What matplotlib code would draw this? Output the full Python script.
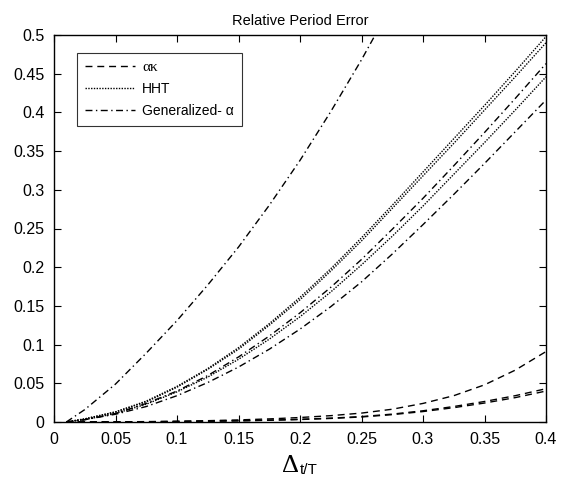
import matplotlib
matplotlib.use("Agg")
import matplotlib.pyplot as plt

# ---- data ----
t = [0.01, 0.025, 0.05, 0.075, 0.1, 0.125, 0.15, 0.175, 0.2, 0.225, 0.25,
     0.275, 0.3, 0.325, 0.35, 0.375, 0.4]

ak_1 = [0, 0, 0.0002, 0.0005, 0.001, 0.0017, 0.0027, 0.004, 0.0058, 0.0082,
        0.0115, 0.0165, 0.024, 0.034, 0.048, 0.067, 0.091]
ak_2 = [0, 0, 0.0001, 0.0003, 0.0006, 0.001, 0.0016, 0.0024, 0.0035, 0.005,
        0.007, 0.0102, 0.0145, 0.020, 0.0265, 0.034, 0.043]
ak_3 = [0, 0, 0.0001, 0.0003, 0.0006, 0.001, 0.0015, 0.0022, 0.0032, 0.0046,
        0.0065, 0.0095, 0.0135, 0.0185, 0.0245, 0.0315, 0.040]

hht_1 = [0, 0.004, 0.013, 0.027, 0.046, 0.069, 0.096, 0.127, 0.161, 0.198,
         0.238, 0.280, 0.323, 0.366, 0.409, 0.453, 0.498]
hht_2 = [0, 0.004, 0.013, 0.026, 0.045, 0.068, 0.094, 0.125, 0.158, 0.195,
         0.234, 0.276, 0.318, 0.360, 0.403, 0.446, 0.490]
hht_3 = [0, 0.003, 0.011, 0.023, 0.039, 0.058, 0.081, 0.107, 0.136, 0.168,
         0.203, 0.240, 0.279, 0.320, 0.361, 0.403, 0.446]

t_ga1 = [0.01, 0.025, 0.05, 0.075, 0.1, 0.125, 0.15, 0.175, 0.2, 0.225, 0.25, 0.275]
ga_1 = [0, 0.016, 0.049, 0.089, 0.131, 0.177, 0.226, 0.280, 0.338, 0.401, 0.468, 0.540]
ga_2 = [0, 0.003, 0.011, 0.024, 0.040, 0.060, 0.084, 0.111, 0.141, 0.174,
        0.210, 0.249, 0.289, 0.331, 0.374, 0.418, 0.463]
ga_3 = [0, 0.003, 0.010, 0.020, 0.034, 0.051, 0.071, 0.094, 0.120, 0.149,
        0.181, 0.217, 0.255, 0.294, 0.334, 0.375, 0.416]

legend_labels = ["ακ", "HHT", "Generalized- α"]
xticks = [0, 0.05, 0.1, 0.15, 0.2, 0.25, 0.3, 0.35, 0.4]
xticklabels = ["0", "0.05", "0.1", "0.15", "0.2", "0.25", "0.3", "0.35", "0.4"]
yticks = [0, 0.05, 0.1, 0.15, 0.2, 0.25, 0.3, 0.35, 0.4, 0.45, 0.5]
yticklabels = ["0", "0.05", "0.1", "0.15", "0.2", "0.25", "0.3", "0.35", "0.4", "0.45", "0.5"]

# ---- plot ----
plt.rcParams['font.family'] = ['Liberation Sans', 'DejaVu Sans']
fig = plt.figure(figsize=(5.65, 4.83), dpi=100)
ax = fig.add_axes([54/565, 1-422/483, (546-54)/565, (422-35)/483])

dash = (0, (5, 3.5))
dot = (0, (1, 1))
dashdot = (0, (5, 2.5, 1, 2.5))
lw = 1.0

l1, = ax.plot(t, ak_1, color='black', lw=lw, linestyle=dash)
ax.plot(t, ak_2, color='black', lw=lw, linestyle=dash)
ax.plot(t, ak_3, color='black', lw=lw, linestyle=dash)

l2, = ax.plot(t, hht_1, color='black', lw=lw, linestyle=dot)
ax.plot(t, hht_2, color='black', lw=lw, linestyle=dot)
ax.plot(t, hht_3, color='black', lw=lw, linestyle=dot)

l3, = ax.plot(t_ga1, ga_1, color='black', lw=lw, linestyle=dashdot)
ax.plot(t, ga_2, color='black', lw=lw, linestyle=dashdot)
ax.plot(t, ga_3, color='black', lw=lw, linestyle=dashdot)

ax.set_xlim(0, 0.4)
ax.set_ylim(0, 0.5)
ax.set_xticks(xticks)
ax.set_xticklabels(xticklabels)
ax.set_yticks(yticks)
ax.set_yticklabels(yticklabels)
ax.tick_params(direction='in', top=True, right=True, length=5, width=0.8,
               labelsize=11.5, pad=7)
for s in ax.spines.values():
    s.set_linewidth(1.0)

leg = ax.legend([l1, l2, l3], legend_labels, loc='upper left',
                bbox_to_anchor=(23/492, 1-18/387), fontsize=10,
                frameon=True, fancybox=False, edgecolor='black',
                handlelength=3.6, handletextpad=0.5, borderpad=0.6,
                labelspacing=0.55, borderaxespad=0)
leg.get_frame().set_linewidth(0.8)
leg.get_texts()[0].set_family(['Liberation Serif', 'DejaVu Serif'])
leg.get_texts()[0].set_fontsize(11)

ax.set_title("Relative Period Error", fontsize=10.5, pad=7)

fig.text(0.530, 0.012, "t/T", fontsize=11, ha='left', va='bottom')
fig.text(0.530, 0.012, "Δ", fontsize=19, ha='right', va='bottom',
         family=['Liberation Serif', 'DejaVu Serif'])

fig.savefig("out.png", dpi=100)
